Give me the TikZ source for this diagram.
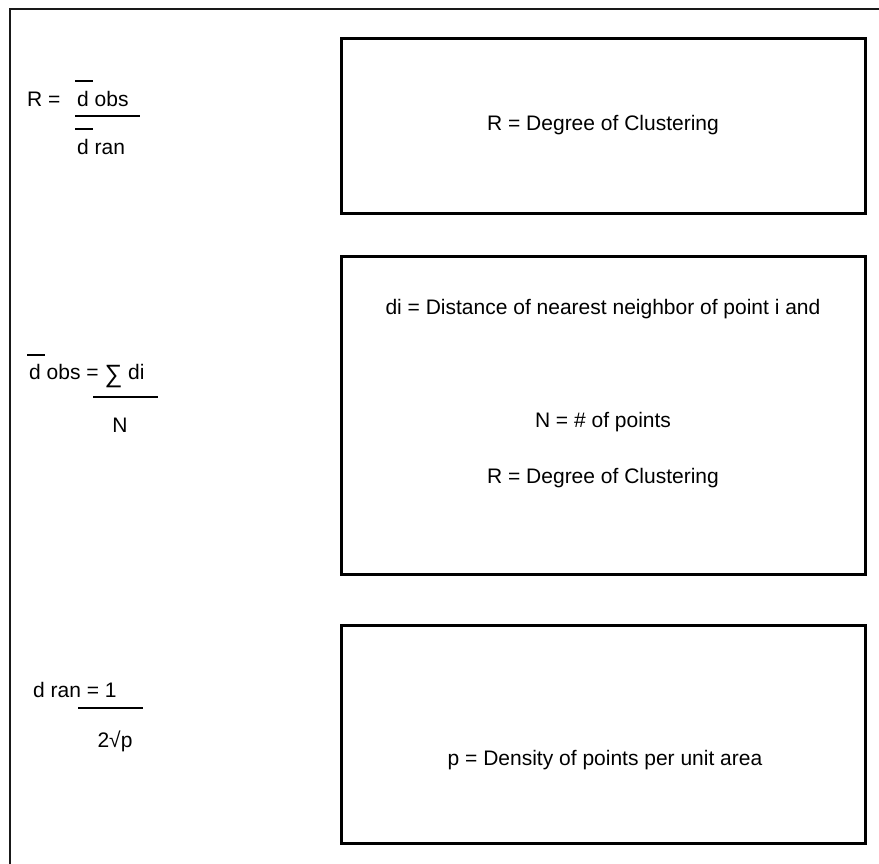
\documentclass[tikz,border=0pt]{standalone}
\usepackage{fontspec}
\setmainfont{Liberation Sans}
\newcommand{\dbar}[1]{\hspace*{-2pt}\rlap{\raisebox{#1}{\rule{18pt}{1.6pt}}}\hspace*{2pt}d}
\newcommand{\bigsum}{\raisebox{-3pt}{\fontsize{25}{25}\selectfont ∑}}
\begin{document}
\begin{tikzpicture}[x=1pt,y=-1pt,
  font=\fontsize{21}{25}\selectfont,
  box/.style={draw=black, line width=3pt, minimum width=524pt, anchor=north west, inner sep=0pt},
  txt/.style={inner sep=0pt, anchor=base},
  ltxt/.style={inner sep=0pt, anchor=base west},
  fracrule/.style={line width=1.6pt, black}]
\useasboundingbox (0,0) rectangle (879,864);
\fill[white] (0,0) rectangle (879,864);
% outer frame (cropped at right and bottom)
\draw[line width=2pt, black!90] (9.5,880) -- (9.5,9.5) -- (890,9.5);

% boxes
\node[box, minimum height=175pt] (b1) at (340,37) {};
\node[box, minimum height=318pt] (b2) at (340,255) {};
\node[box, minimum height=218pt] (b3) at (340,624) {};

% box texts
\node[txt] (t1) at (603,131) {R = Degree of Clustering};
\node[txt] (t2a) at (603,314) {di = Distance of nearest neighbor of point i and};
\node[txt] (t2b) at (603,427) {N = \# of points};
\node[txt] (t2c) at (603,483) {R = Degree of Clustering};
\node[txt] (t3) at (605,765) {p = Density of points per unit area};

% formula 1
\node[ltxt] (r) at (27,107) {R =};
\node[ltxt] (num1) at (77,107) {\dbar{25pt} obs};
\node[ltxt] (den1) at (77,155) {\dbar{25pt} ran};
\coordinate (f1a) at (75,116);
\coordinate (f1b) at (140,116);
\draw[fracrule] (f1a) -- (f1b);

% formula 2
\node[ltxt] (dobs) at (29,379) {\dbar{23pt} obs = \bigsum\ di};
\node[txt] (n) at (120,432) {N};
\coordinate (f2a) at (93,397);
\coordinate (f2b) at (158,397);
\draw[fracrule] (f2a) -- (f2b);

% formula 3
\node[ltxt] (dran) at (33,697) {d ran = 1};
\node[txt] (den3) at (115,747) {2√p};
\coordinate (f3a) at (78,708);
\coordinate (f3b) at (143,708);
\draw[fracrule] (f3a) -- (f3b);
\end{tikzpicture}
\end{document}
